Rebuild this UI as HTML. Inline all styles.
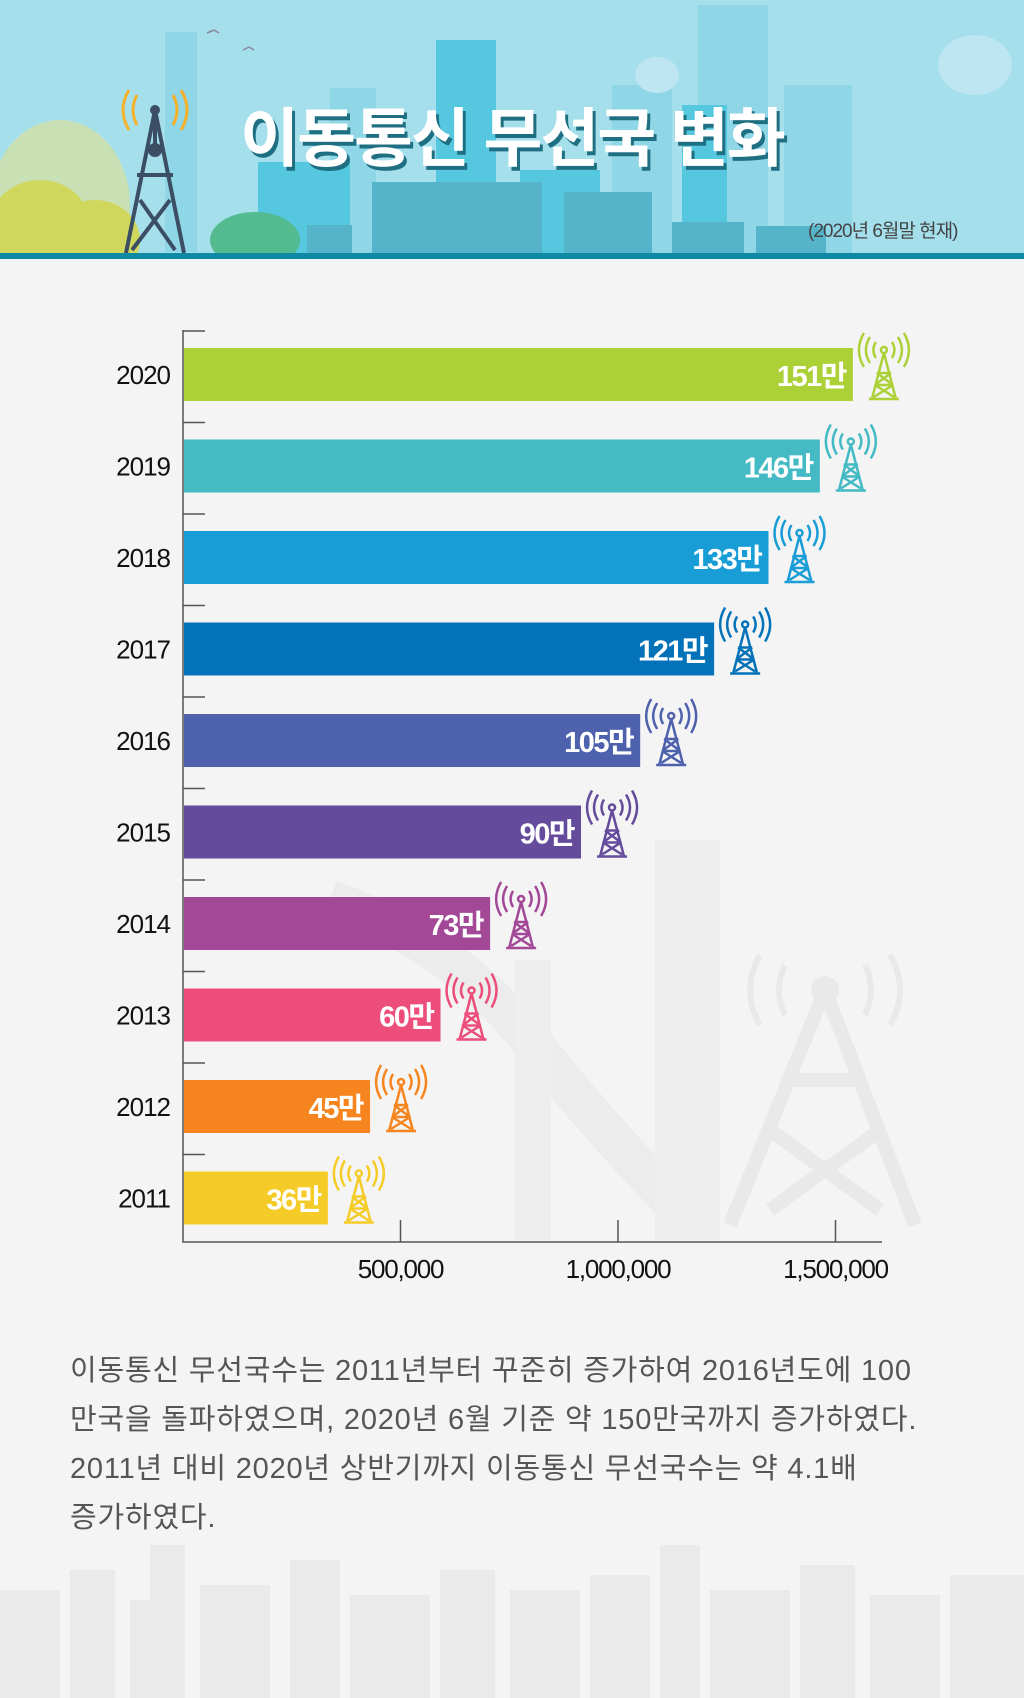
<!DOCTYPE html>
<html><head><meta charset="utf-8">
<style>
body{margin:0;width:1024px;height:1698px;background:#f4f4f4;font-family:"Liberation Sans","Noto Sans CJK KR",sans-serif;overflow:hidden;position:relative}
#hdr{position:absolute;left:0;top:0;width:1024px;height:253px;background:#a5dfec;overflow:hidden}
#line{position:absolute;left:0;top:253px;width:1024px;height:6px;background:#0e8aa5}
#title{position:absolute;left:0;width:1024px;top:88px;text-align:center;font-size:64px;font-weight:bold;color:#fff;letter-spacing:-2px;text-shadow:3px 4px 0 #1f6f82}
#sub{position:absolute;left:808px;top:216px;font-size:19px;color:#444;letter-spacing:-1px}
#para{position:absolute;left:70px;top:1347px;font-size:29px;line-height:49px;color:#555;width:950px;letter-spacing:0.8px}
svg{position:absolute;left:0;top:0}
</style></head><body>
<div id="hdr">
<svg width="1024" height="253">
<rect x="165" y="32" width="32" height="220" fill="#8fd6e6"/>
<rect x="330" y="88" width="46" height="170" fill="#8fd6e6"/>
<rect x="698" y="5" width="70" height="250" fill="#8fd6e6"/>
<rect x="436" y="40" width="60" height="220" fill="#55c8e0"/>
<rect x="612" y="85" width="60" height="170" fill="#8fd6e6"/>
<rect x="784" y="85" width="68" height="170" fill="#8fd6e6"/>
<rect x="258" y="162" width="92" height="95" fill="#55c8e0"/>
<rect x="520" y="170" width="80" height="90" fill="#55c8e0"/>
<rect x="682" y="105" width="45" height="150" fill="#55c8e0"/>
<rect x="372" y="182" width="170" height="75" fill="#56b4ca"/>
<rect x="564" y="192" width="88" height="65" fill="#56b4ca"/>
<rect x="672" y="222" width="72" height="35" fill="#56b4ca"/>
<rect x="756" y="226" width="70" height="30" fill="#56b4ca"/>
<rect x="307" y="225" width="45" height="30" fill="#56b4ca"/>
<ellipse cx="975" cy="65" rx="37" ry="30" fill="#bde6f2"/>
<ellipse cx="657" cy="75" rx="22" ry="18" fill="#bde6f2"/>
<ellipse cx="60" cy="205" rx="70" ry="85" fill="#c9e0b5"/>
<ellipse cx="40" cy="225" rx="50" ry="45" fill="#cfd85c"/>
<ellipse cx="95" cy="240" rx="45" ry="40" fill="#cfd85c"/>
<ellipse cx="255" cy="240" rx="45" ry="28" fill="#54bb91"/>
<path d="M207 33l7-3M214 30l5 3M243 50l6-3M249 47l5 3" stroke="#889" stroke-width="1.5" fill="none"/>
<g stroke="#3b4e63" stroke-width="4" fill="none"><path d="M155 110L126 253M155 110L184 253M140 200L175 250M170 200L132 250M137 175h36"/><circle cx="155" cy="150" r="5" fill="#3b4e63"/><path d="M155 110V150"/><circle cx="155" cy="110" r="3" fill="#3b4e63"/></g>
<g stroke="#f5b12a" stroke-width="3" fill="none"><path d="M137 95q-8 15 0 30M129 90q-12 20 0 40M173 95q8 15 0 30M181 90q12 20 0 40"/></g>
</svg>
<div id="title">이동통신 무선국 변화</div>
<div id="sub">(2020년 6월말 현재)</div>
</div>
<div id="line"></div>
<svg id="chart" width="1024" height="1698" style="top:0"></svg>
<div id="para">이동통신 무선국수는 2011년부터 꾸준히 증가하여 2016년도에 100<br>만국을 돌파하였으며, 2020년 6월 기준 약 150만국까지 증가하였다.<br>2011년 대비 2020년 상반기까지 이동통신 무선국수는 약 4.1배<br>증가하였다.</div>
<script>
const years=["2020","2019","2018","2017","2016","2015","2014","2013","2012","2011"];
const values=[1540000,1464000,1346000,1221000,1051000,915000,706000,592000,430000,333000];
const valueLabels=["151만","146만","133만","121만","105만","90만","73만","60만","45만","36만"];
const colors=["#abd137","#43bac4","#189dd6","#0472b9","#4e61ad","#654b9b","#a24897","#ec4d7a","#f6851f","#f5cc27"];
const xTicks=[500000,1000000,1500000];
const xTickLabels=["500,000","1,000,000","1,500,000"];
const NS="http://www.w3.org/2000/svg";
const svg=document.getElementById('chart');
const x0=183,pxPer=217.5/500000,top0=348,pitch=91.5,bh=53;
const X=v=>x0+v*pxPer, Y=i=>top0+i*pitch;
function mk(t,a,p){const e=document.createElementNS(NS,t);for(const k in a)e.setAttribute(k,a[k]);(p||svg).appendChild(e);return e;}
const bg=mk('g',{});


mk('path',{d:'M825 990L730 1225M825 990L915 1225M770 1130L880 1210M880 1130L770 1210M785 1080h80',stroke:'#e9e9e9','stroke-width':'14',fill:'none'},bg);
mk('circle',{cx:825,cy:990,r:14,fill:'#e9e9e9'},bg);
mk('path',{d:'M760 955q-20 35 0 70M890 955q20 35 0 70M785 965q-12 25 0 50M865 965q12 25 0 50',stroke:'#e9e9e9','stroke-width':'6',fill:'none'},bg);
mk('path',{d:'M330 900q120 40 200 140t160 180',stroke:'#ececec','stroke-width':'40',fill:'none'},bg);
mk('rect',{x:655,y:840,width:65,height:400,fill:'#eeeeee'},bg);
mk('rect',{x:515,y:960,width:36,height:280,fill:'#eeeeee'},bg);
const sk=mk('g',{});


[[0,1590,60],[70,1570,45],[130,1600,50],[150,1545,35],[200,1585,70],[290,1560,50],[350,1595,80],[440,1570,55],[510,1590,70],[590,1575,60],[660,1545,40],[710,1590,80],[800,1565,55],[870,1595,70],[950,1575,74]].forEach(b=>mk('rect',{x:b[0],y:b[1],width:b[2],height:1698-b[1],fill:'#eaeaea'},sk));
const ax=mk('path',{d:`M${x0} 330V1242H882`,stroke:'#555','stroke-width':'1.5',fill:'none'});


years.forEach((y,i)=>{const t=mk('line',{x1:x0,x2:x0+22,y1:Y(i)-17,y2:Y(i)-17,stroke:'#555','stroke-width':'1.5'});

});
xTicks.forEach((v,i)=>{const t=mk('line',{x1:X(v),x2:X(v),y1:1220,y2:1242,stroke:'#555','stroke-width':'1.5'});


const l=mk('text',{x:X(v),y:1278,'text-anchor':'middle','font-size':'26',fill:'#111','letter-spacing':'-1.2'});l.textContent=xTickLabels[i];

});
years.forEach((yr,i)=>{const y=Y(i),xe=X(values[i]),c=colors[i];
const yl=mk('text',{x:170,y:y+36,'text-anchor':'end','font-size':'26',fill:'#111','letter-spacing':'-1'});yl.textContent=yr;


const b=mk('rect',{x:x0+1,y:y,width:xe-x0-1,height:bh,fill:c});


const vl=mk('text',{x:xe-7,y:y+38,'text-anchor':'end','font-size':'29','font-weight':'bold',fill:'#fff','letter-spacing':'-1.5'});vl.textContent=valueLabels[i];


const g=mk('g',{transform:`translate(${xe+31},${y-11})`,stroke:c,fill:'none','stroke-width':'2.5'});


mk('path',{d:'M0 16L-12 62M0 16L12 62M-15 62h30M-7 36h14M-9 48h18M-7 36L9 48M7 36L-9 48M-9 48L10 60M9 48L-10 60'},g);
mk('circle',{cx:0,cy:13,r:3},g);
mk('path',{d:'M-8 5q-5 8 0 16M8 5q5 8 0 16M-14 0q-8 13 0 26M14 0q8 13 0 26M-20 -4q-10 17 0 34M20 -4q10 17 0 34'},g);
});
</script>
</body></html>
